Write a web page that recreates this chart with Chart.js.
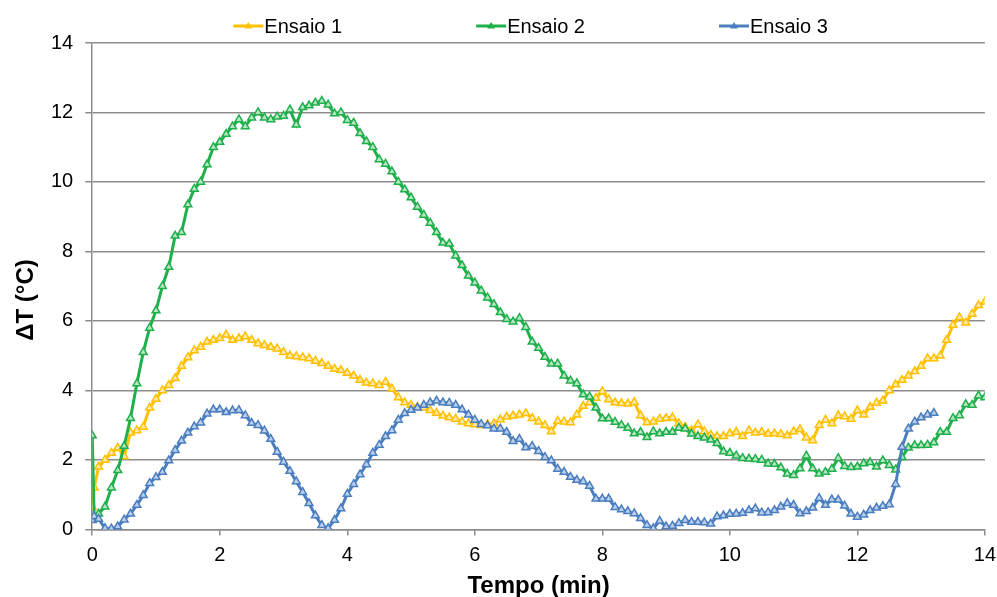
<!DOCTYPE html>
<html lang="pt">
<head>
<meta charset="utf-8">
<title>Ensaios - ΔT</title>
<script src="https://cdn.jsdelivr.net/npm/chart.js@4/dist/chart.umd.min.js"></script>
<style>
    html, body { margin: 0; padding: 0; background: #fff; overflow: hidden; }
    /* um pouco mais largo que a janela: o rotulo "14" fica rente a borda como no original */
    #grafico-wrap { width: 1004px; height: 597px; }
</style>
</head>
<body>
<div id="grafico-wrap"><canvas id="grafico"></canvas></div>
<script>
"use strict";

// Tempo (min) de cada leitura
const tempo = [0, 0.03,
    0.1, 0.2, 0.3, 0.4, 0.5, 0.6, 0.7, 0.8, 0.9, 1.0,
    1.1, 1.2, 1.3, 1.4, 1.5, 1.6, 1.7, 1.8, 1.9, 2.0,
    2.1, 2.2, 2.3, 2.4, 2.5, 2.6, 2.7, 2.8, 2.9, 3.0,
    3.1, 3.2, 3.3, 3.4, 3.5, 3.6, 3.7, 3.8, 3.9, 4.0,
    4.1, 4.2, 4.3, 4.4, 4.5, 4.6, 4.7, 4.8, 4.9, 5.0,
    5.1, 5.2, 5.3, 5.4, 5.5, 5.6, 5.7, 5.8, 5.9, 6.0,
    6.1, 6.2, 6.3, 6.4, 6.5, 6.6, 6.7, 6.8, 6.9, 7.0,
    7.1, 7.2, 7.3, 7.4, 7.5, 7.6, 7.7, 7.8, 7.9, 8.0,
    8.1, 8.2, 8.3, 8.4, 8.5, 8.6, 8.7, 8.8, 8.9, 9.0,
    9.1, 9.2, 9.3, 9.4, 9.5, 9.6, 9.7, 9.8, 9.9, 10.0,
    10.1, 10.2, 10.3, 10.4, 10.5, 10.6, 10.7, 10.8, 10.9, 11.0,
    11.1, 11.2, 11.3, 11.4, 11.5, 11.6, 11.7, 11.8, 11.9, 12.0,
    12.1, 12.2, 12.3, 12.4, 12.5, 12.6, 12.7, 12.8, 12.9, 13.0,
    13.1, 13.2, 13.3, 13.4, 13.5, 13.6, 13.7, 13.8, 13.9, 14.0];

// ΔT (°C) - Ensaio 1
const ensaio1 = [0.64, 1.2,
    1.8, 2.0, 2.2, 2.35, 2.1, 2.78, 2.85, 2.95, 3.5, 3.75,
    4.0, 4.15, 4.35, 4.7, 4.95, 5.15, 5.25, 5.4, 5.45, 5.5,
    5.6, 5.45, 5.5, 5.55, 5.45, 5.35, 5.3, 5.25, 5.2, 5.1,
    5.0, 4.98, 4.95, 4.92, 4.85, 4.78, 4.7, 4.62, 4.58, 4.5,
    4.42, 4.3, 4.22, 4.2, 4.15, 4.24, 4.05, 3.8, 3.65, 3.58,
    3.52, 3.5, 3.43, 3.35, 3.27, 3.22, 3.18, 3.1, 3.05, 3.02,
    3.0, 3.03, 3.05, 3.16, 3.24, 3.27, 3.3, 3.34, 3.2, 3.1,
    3.0, 2.82, 3.12, 3.1, 3.08, 3.3, 3.55, 3.65, 3.78, 3.97,
    3.74, 3.65, 3.63, 3.62, 3.66, 3.28, 3.08, 3.1, 3.18, 3.2,
    3.22, 3.05, 2.95, 2.85, 3.02, 2.82, 2.72, 2.68, 2.68, 2.76,
    2.8, 2.68, 2.85, 2.78, 2.8, 2.75, 2.76, 2.74, 2.7, 2.82,
    2.88, 2.64, 2.56, 3.0, 3.15, 3.05, 3.28, 3.25, 3.18, 3.42,
    3.3, 3.52, 3.64, 3.7, 4.0, 4.17, 4.3, 4.42, 4.55, 4.7,
    4.92, 4.92, 5.0, 5.45, 5.88, 6.1, 5.95, 6.2, 6.45, 6.55];

// ΔT (°C) - Ensaio 2
const ensaio2 = [2.7, 0.35,
    0.45, 0.65, 1.2, 1.7, 2.4, 3.2, 4.2, 5.1, 5.8, 6.3,
    7.0, 7.55, 8.45, 8.55, 9.35, 9.8, 10.0, 10.5, 11.0, 11.15,
    11.38, 11.6, 11.8, 11.6, 11.85, 12.0, 11.85, 11.8, 11.88, 11.9,
    12.08, 11.65, 12.15, 12.2, 12.28, 12.33, 12.22, 11.97, 12.0, 11.78,
    11.7, 11.4, 11.17, 11.0, 10.65, 10.52, 10.3, 10.0, 9.78, 9.55,
    9.28, 9.05, 8.82, 8.55, 8.25, 8.22, 7.88, 7.6, 7.3, 7.1,
    6.87, 6.67, 6.48, 6.25, 6.05, 5.98, 6.08, 5.82, 5.4, 5.22,
    4.96, 4.77, 4.77, 4.42, 4.28, 4.2, 3.88, 3.82, 3.5, 3.19,
    3.19, 3.09, 3.0, 2.92, 2.76, 2.8, 2.65, 2.82, 2.76, 2.8,
    2.8, 2.92, 2.9, 2.75, 2.68, 2.64, 2.58, 2.48, 2.24, 2.2,
    2.12, 2.05, 2.03, 2.02, 2.0, 1.89, 1.88, 1.78, 1.6, 1.56,
    1.75, 2.12, 1.75, 1.6, 1.65, 1.74, 2.05, 1.82, 1.79, 1.8,
    1.9, 1.93, 1.8, 1.98, 1.85, 1.72, 2.08, 2.35, 2.42, 2.42,
    2.43, 2.5, 2.8, 2.8, 3.2, 3.28, 3.6, 3.58, 3.85, 3.8];

// ΔT (°C) - Ensaio 3 (termina em 13,2 min)
const ensaio3 = [0.26, 0.38,
    0.3, 0.03, 0.02, 0.08, 0.28, 0.45, 0.7, 0.98, 1.33, 1.5,
    1.65, 1.98, 2.28, 2.55, 2.78, 2.96, 3.07, 3.33, 3.45, 3.45,
    3.37, 3.42, 3.43, 3.28, 3.06, 3.0, 2.84, 2.6, 2.23, 1.94,
    1.68, 1.38, 1.07, 0.75, 0.4, 0.12, 0.03, 0.27, 0.6, 1.02,
    1.3, 1.58, 1.87, 2.2, 2.43, 2.68, 2.85, 3.15, 3.34, 3.44,
    3.5, 3.58, 3.65, 3.7, 3.65, 3.64, 3.58, 3.45, 3.3, 3.15,
    3.03, 2.99, 2.9, 2.9, 2.8, 2.54, 2.6, 2.36, 2.4, 2.25,
    2.08, 1.98, 1.74, 1.65, 1.51, 1.42, 1.38, 1.25, 0.88, 0.88,
    0.88, 0.64, 0.57, 0.52, 0.46, 0.32, 0.12, 0.03, 0.24, 0.08,
    0.1, 0.18, 0.26, 0.21, 0.21, 0.2, 0.16, 0.37, 0.4, 0.44,
    0.45, 0.47, 0.55, 0.6, 0.48, 0.49, 0.55, 0.65, 0.75, 0.7,
    0.46, 0.52, 0.62, 0.9, 0.7, 0.86, 0.85, 0.68, 0.45, 0.36,
    0.42, 0.55, 0.62, 0.67, 0.72, 1.3, 2.37, 2.9, 3.1, 3.22,
    3.3, 3.35];

const nomes = ["Ensaio 1", "Ensaio 2", "Ensaio 3"];
const eixoY = [0, 2, 4, 6, 8, 10, 12, 14];
const eixoX = [0, 2, 4, 6, 8, 10, 12, 14];
const tituloY = "ΔT (°C)";
const tituloX = "Tempo (min)";

const cores = ["#FFC000", "#1FAF4B", "#4A7EBF"];
const coresClaras = ["#FFE9A8", "#B6E6C4", "#BCD0EC"];
const FONTE = "'Liberation Sans', Arial, sans-serif";
const COR_GRADE = "#8C8C8C";

/**
 * Junta tempo e valores em pontos {x, y}.
 */
function pontos(valores) {
    return valores.map(function (v, i) { return { x: tempo[i], y: v }; });
}

/**
 * Legenda no estilo do Excel: linha curta com marcador e texto colado.
 */
const legendaEnsaios = {
    id: "legendaEnsaios",
    afterDraw: function (chart) {
        const ctx = chart.ctx;
        const area = chart.chartArea;
        const espaco = 134;
        const linha = 30;
        const y = 26;

        ctx.save();
        ctx.font = "20px " + FONTE;
        ctx.textBaseline = "middle";

        const itens = chart.data.datasets.map(function (ds) {
            return { ds: ds, largura: linha + 1 + ctx.measureText(ds.label).width };
        });
        const total = itens.reduce(function (s, it) { return s + it.largura; }, 0) + espaco * (itens.length - 1);
        let x = (area.left + area.right) / 2 - 8 - total / 2;

        itens.forEach(function (it) {
            ctx.strokeStyle = it.ds.borderColor;
            ctx.lineWidth = 3;
            ctx.beginPath();
            ctx.moveTo(x, y);
            ctx.lineTo(x + linha, y);
            ctx.stroke();

            // marcador triangular
            const cx = x + linha / 2;
            ctx.fillStyle = it.ds.borderColor;
            ctx.beginPath();
            ctx.moveTo(cx, y - 4);
            ctx.lineTo(cx + 4, y + 2.5);
            ctx.lineTo(cx - 4, y + 2.5);
            ctx.closePath();
            ctx.fill();

            ctx.fillStyle = "#000";
            ctx.fillText(it.ds.label, x + linha + 1, y + 1);
            x += it.largura + espaco;
        });
        ctx.restore();
    }
};

/**
 * Titulo do eixo Y desenhado a mao (o Excel o coloca um pouco abaixo do centro).
 */
const tituloEixoY = {
    id: "tituloEixoY",
    afterDraw: function (chart) {
        const ctx = chart.ctx;
        ctx.save();
        ctx.translate(26, 300);
        ctx.rotate(-Math.PI / 2);
        ctx.font = "bold 24px " + FONTE;
        ctx.fillStyle = "#000";
        ctx.textAlign = "center";
        ctx.textBaseline = "middle";
        ctx.fillText(tituloY, 0, 0);
        ctx.restore();
    }
};

function serie(i, valores) {
    return {
        label: nomes[i],
        data: pontos(valores),
        borderColor: cores[i],
        backgroundColor: cores[i],
        borderWidth: 3,
        pointStyle: "triangle",
        pointRadius: 4.5,
        pointBorderWidth: 1.5,
        pointBorderColor: cores[i],
        pointBackgroundColor: coresClaras[i],
        tension: 0,
        order: 3 - i
    };
}

new Chart(document.getElementById("grafico"), {
    type: "line",
    data: {
        datasets: [serie(0, ensaio1), serie(1, ensaio2), serie(2, ensaio3)]
    },
    plugins: [legendaEnsaios, tituloEixoY],
    options: {
        responsive: true,
        maintainAspectRatio: false,
        animation: false,
        layout: { padding: { top: 43, left: 39, right: 0, bottom: 0 } },
        plugins: {
            legend: { display: false },
            tooltip: { enabled: false }
        },
        scales: {
            x: {
                type: "linear",
                min: 0,
                max: 14,
                afterBuildTicks: function (axis) {
                    axis.ticks = eixoX.map(function (v) { return { value: v }; });
                },
                border: { display: true, color: COR_GRADE, width: 1.5 },
                grid: {
                    drawOnChartArea: false,
                    drawTicks: true,
                    tickLength: 6,
                    color: COR_GRADE,
                    lineWidth: 1.5
                },
                ticks: {
                    padding: 8,
                    color: "#000",
                    maxRotation: 0,
                    font: { family: FONTE, size: 20 }
                },
                title: {
                    display: true,
                    text: tituloX,
                    color: "#000",
                    padding: { top: 0, bottom: 0 },
                    font: { family: FONTE, size: 24, weight: "bold", lineHeight: 0.9 }
                }
            },
            y: {
                min: 0,
                max: 14,
                afterBuildTicks: function (axis) {
                    axis.ticks = eixoY.map(function (v) { return { value: v }; });
                },
                border: { display: true, color: COR_GRADE, width: 1.5 },
                grid: {
                    color: COR_GRADE,
                    lineWidth: 1.5,
                    drawTicks: true,
                    tickLength: 7
                },
                ticks: {
                    padding: 12,
                    color: "#000",
                    font: { family: FONTE, size: 20 }
                },
                title: { display: false }
            }
        }
    }
});
</script>
</body>
</html>
